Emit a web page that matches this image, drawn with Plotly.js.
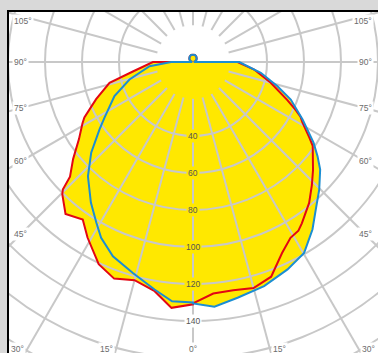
<!DOCTYPE html>
<html><head><meta charset="utf-8">
<script src="https://cdn.plot.ly/plotly-3.0.1.min.js"></script>
<style>
html,body{margin:0;padding:0;width:378px;height:353px;overflow:hidden;background:#d9d9d9;}
#frame{position:absolute;left:7px;top:10px;width:371px;height:341px;border-left:2px solid #000;border-top:2px solid #000;background:#fff;overflow:hidden;}
#chart{position:absolute;left:-186px;top:-320px;width:740px;height:740px;}
</style></head><body>
<div id="frame"><div id="chart"></div></div>
<script>
// ---- data (gamma angle in degrees from nadir, luminous intensity) ----
const redLeftAngles  = [0,5,9.5,15,20,25,31,35,40,44.6,45.6,47,51,56,61,63,69,76,81,90,95,110,125,135,150,165,180];
const redLeftValues  = [131,133.4,125.6,122.1,124.6,120.6,110.7,103.9,107.2,100.6,98.5,90.9,83.4,74.3,68.3,65.9,56.1,46.5,32.9,21.7,0.5,1.5,2.3,2.8,3.5,3.9,4];
const redRightAngles = [0,5,10,15,20,25,29,32,34,39.5,44,48,55,57,61,63,65,68,75,83,90,95,110,125,135,150,165,180];
const redRightValues = [130.5,125.6,125.3,126.5,123.5,113.9,108.7,107.5,105.2,98.7,92.5,87.3,79.0,75.0,67.7,65.2,61.2,55.0,43.5,33.3,24.1,0.5,1.5,2.3,2.8,3.5,3.9,4];
const blueLeftAngles  = [0,5,9.6,16,22.4,27.6,31,36,42.6,48.3,54.2,57.8,66.5,74.6,84.5,90,95,110,125,135,150,165,180];
const blueLeftValues  = [130,129.8,124.7,118.5,113.6,107.2,101.4,93.9,83.9,73.7,62.3,56.6,46.3,35.6,23.6,11.8,0.5,1.5,2.3,2.8,3.5,3.9,4];
const blueRightAngles = [0,5,10.7,17.6,24.5,30.2,35.5,39.8,44.7,49.8,52.9,56.2,62.3,69,74,81,90,95,110,125,135,150,165,180];
const blueRightValues = [130.5,132.8,129.7,127.1,123.2,119.4,111.2,103.7,97.0,90.0,84.4,78.4,66.9,56.6,47.5,37.1,25.0,0.5,1.5,2.3,2.8,3.5,3.9,4];
const radialTicks = [20,40,60,80,100,120,140,160,180];
const radialLabels = [40,60,80,100,120,140];
const angleLabels = [0,15,30,45,60,75,90,105];

// ---- geometry / style ----
const RMAX = 200, R = 370;          // radius in px of the polar disk
const CX = 193, CY = 62;            // page position of the pole
const W = 2*R;
const GRID = '#c8c8c8', YELLOW = '#ffe800', RED = '#e30613', BLUE = '#1b8ed3';
const FONT = 'Liberation Sans, Arial, Helvetica, sans-serif';
const DOM = {x:[0,1], y:[0,1]};

function closed(leftA, leftV, rightA, rightV){
  const theta = rightA.slice().reverse().concat(leftA.map(a => 360 - a));
  const r = rightV.slice().reverse().concat(leftV);
  return {theta, r};
}
const red = closed(redLeftAngles, redLeftValues, redRightAngles, redRightValues);
const blue = closed(blueLeftAngles, blueLeftValues, blueRightAngles, blueRightValues);

const traces = [
  {type:'scatterpolar', subplot:'polar', r:red.r, theta:red.theta, mode:'lines', fill:'toself', fillcolor:YELLOW, line:{width:0, color:YELLOW}, hoverinfo:'skip'},
  {type:'scatterpolar', subplot:'polar', r:blue.r, theta:blue.theta, mode:'lines', fill:'toself', fillcolor:YELLOW, line:{width:0, color:YELLOW}, hoverinfo:'skip'},
  {type:'scatterpolar', subplot:'polar2', r:[], theta:[], mode:'lines'},
  {type:'scatterpolar', subplot:'polar3', r:red.r, theta:red.theta, mode:'lines', line:{width:2, color:RED}},
  {type:'scatterpolar', subplot:'polar3', r:blue.r, theta:blue.theta, mode:'lines', line:{width:2, color:BLUE}}
];

const hidden = {visible:false};
const ang = {rotation:-90, direction:'counterclockwise'};
const angTicks = []; for (let a = 0; a < 360; a += 15) angTicks.push(a);

// page -> paper conversion for annotations
const px2x = x => (x - (CX - R)) / W;
const py2y = y => 1 - (y - (CY - R)) / W;
const annotations = [];
const lblFont = {family:FONT, size:8.5, color:'#6b6b6b'};
angleLabels.forEach(g => {
  const rad = g*Math.PI/180;
  [-1, 1].forEach(s => {
    if (g === 0 && s === 1) return;
    let x, y, xa;
    if (g <= 30) {
      y = 349;
      x = CX + s*Math.tan(rad)*(y - CY);
      xa = g === 0 ? 'center' : (s < 0 ? 'right' : 'left');
      if (g !== 0) x += s*1;
    } else if (s < 0) {
      x = 12; xa = 'left';
      y = CY + (CX - 21)/Math.tan(rad);
    } else {
      x = 374; xa = 'right';
      y = CY + (365 - CX)/Math.tan(rad);
    }
    y = Math.max(y, 21);
    annotations.push({xref:'paper', yref:'paper', x:px2x(x), y:py2y(y), xanchor:xa, yanchor:'middle',
      text:g + '°', showarrow:false, font:lblFont, bgcolor:'#ffffff', borderpad:1});
  });
});
radialLabels.forEach(v => {
  annotations.push({xref:'paper', yref:'paper', x:0.5, y:0.5 - 0.5*v/RMAX, xanchor:'center', yanchor:'middle',
    text:String(v), showarrow:false, font:{family:FONT, size:8.5, color:'#555'},
    bgcolor: v < 130 ? YELLOW : '#ffffff', borderpad:1});
});

const layout = {
  width:W, height:W, margin:{l:0,r:0,t:0,b:0,pad:0},
  paper_bgcolor:'rgba(0,0,0,0)', showlegend:false,
  polar:{domain:DOM, bgcolor:'#ffffff', radialaxis:Object.assign({range:[0,RMAX]}, hidden), angularaxis:Object.assign({}, ang, hidden)},
  polar2:{domain:DOM, bgcolor:'rgba(0,0,0,0)', hole:19.9/RMAX,
    radialaxis:{range:[19.9,RMAX], tickmode:'array', tickvals:radialTicks, showgrid:true, gridcolor:GRID, gridwidth:2,
      showticklabels:false, showline:false, ticks:''},
    angularaxis:Object.assign({tickmode:'array', tickvals:angTicks, showgrid:true, gridcolor:GRID, gridwidth:2,
      showticklabels:false, showline:false, ticks:''}, ang)},
  polar3:{domain:DOM, bgcolor:'rgba(0,0,0,0)', radialaxis:Object.assign({range:[0,RMAX]}, hidden), angularaxis:Object.assign({}, ang, hidden)},
  annotations
};
Plotly.newPlot('chart', traces, layout, {staticPlot:true, displayModeBar:false});
</script>
</body></html>
